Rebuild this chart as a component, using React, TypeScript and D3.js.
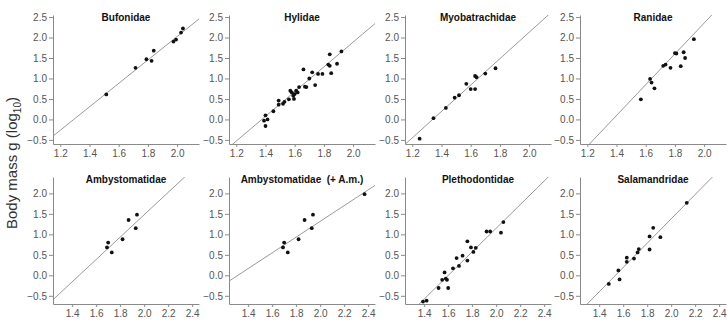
import { useRef, useEffect } from 'react';
import * as d3 from 'd3';

// panel titles, row by row
const families = [
    'Bufonidae', 'Hylidae', 'Myobatrachidae', 'Ranidae',
    'Ambystomatidae', 'Ambystomatidae  (+ A.m.)', 'Plethodontidae', 'Salamandridae',
];

// log10 SVL (x) vs log10 body mass (y)
const bufonidaeX = [1.515, 1.715, 1.79, 1.825, 1.84, 1.975, 1.993, 2.027, 2.04];
const bufonidaeY = [0.61, 1.26, 1.47, 1.43, 1.68, 1.9, 1.95, 2.12, 2.22];

const hylidaeX = [1.4, 1.39, 1.414, 1.4, 1.454, 1.49, 1.49, 1.52, 1.53, 1.56, 1.57, 1.58, 1.59, 1.595, 1.6, 1.61,
    1.62, 1.63, 1.66, 1.67, 1.68, 1.7, 1.72, 1.74, 1.76, 1.79, 1.83, 1.84, 1.84, 1.85, 1.89, 1.92];
const hylidaeY = [0.1, -0.03, 0.0, -0.16, 0.2, 0.36, 0.46, 0.38, 0.43, 0.49, 0.7, 0.66, 0.58, 0.5, 0.62, 0.7,
    0.66, 0.79, 1.22, 0.8, 0.79, 1.0, 1.15, 0.84, 1.11, 1.11, 1.34, 1.31, 1.59, 1.13, 1.36, 1.66];

const myobatrachidaeX = [1.25, 1.345, 1.43, 1.49, 1.52, 1.57, 1.6, 1.63, 1.63, 1.64, 1.7, 1.77];
const myobatrachidaeY = [-0.47, 0.03, 0.28, 0.53, 0.59, 0.87, 0.74, 0.74, 1.06, 1.03, 1.12, 1.25];

const ranidaeX = [1.567, 1.63, 1.64, 1.66, 1.72, 1.736, 1.77, 1.8, 1.81, 1.84, 1.86, 1.87, 1.93];
const ranidaeY = [0.49, 0.99, 0.9, 0.76, 1.31, 1.34, 1.26, 1.62, 1.61, 1.3, 1.64, 1.5, 1.96];

const ambystomatidaeX = [1.69, 1.7, 1.73, 1.82, 1.87, 1.93, 1.94];
const ambystomatidaeY = [0.68, 0.8, 0.56, 0.88, 1.35, 1.15, 1.48];

const ambystomatidaeAmX = [1.69, 1.7, 1.73, 1.82, 1.87, 1.93, 1.94, 2.37];
const ambystomatidaeAmY = [0.68, 0.8, 0.56, 0.88, 1.35, 1.15, 1.48, 1.98];

const plethodontidaeX = [1.39, 1.42, 1.52, 1.55, 1.57, 1.58, 1.59, 1.6, 1.64, 1.67, 1.69, 1.72, 1.76, 1.76,
    1.79, 1.81, 1.83, 1.92, 1.95, 2.04, 2.06];
const plethodontidaeY = [-0.64, -0.62, -0.31, -0.11, 0.07, -0.08, -0.11, -0.31, 0.17, 0.42, 0.23, 0.48, 0.83, 0.36,
    0.68, 0.57, 0.67, 1.07, 1.07, 1.04, 1.3];

const salamandridaeX = [1.48, 1.56, 1.57, 1.63, 1.63, 1.69, 1.72, 1.73, 1.82, 1.82, 1.85, 1.91, 2.13];
const salamandridaeY = [-0.21, 0.12, -0.1, 0.43, 0.33, 0.41, 0.56, 0.64, 0.63, 0.95, 1.16, 0.93, 1.77];

const seriesX = [bufonidaeX, hylidaeX, myobatrachidaeX, ranidaeX,
    ambystomatidaeX, ambystomatidaeAmX, plethodontidaeX, salamandridaeX];
const seriesY = [bufonidaeY, hylidaeY, myobatrachidaeY, ranidaeY,
    ambystomatidaeY, ambystomatidaeAmY, plethodontidaeY, salamandridaeY];

// fitted lines y = a + b x
const intercepts = [-3.696, -4.152, -4.313, -5.168, -3.981, -2.523, -4.611, -4.561];
const slopes = [2.86, 3.02, 3.22, 3.76, 2.73, 1.92, 2.88, 2.97];

// axis ticks per row
const topXTicks = [1.2, 1.4, 1.6, 1.8, 2.0];
const topYTicks = [-0.5, 0.0, 0.5, 1.0, 1.5, 2.0, 2.5];
const bottomXTicks = [1.4, 1.6, 1.8, 2.0, 2.2, 2.4];
const bottomYTicks = [-0.5, 0.0, 0.5, 1.0, 1.5, 2.0];

const FONT = '"Liberation Sans", Arial, Helvetica, sans-serif';

export default function App() {
    const svgRef = useRef<SVGSVGElement>(null);

    useEffect(() => {
        if (!svgRef.current) return;
        const width = 728;
        const height = 325;
        const colLeft = [53, 229, 405, 580];
        const plotW = 146;

        const rows = [
            { top: 15, bottom: 144, xDomain: [1.15, 2.15], yDomain: [-0.6, 2.55], xTicks: topXTicks, yTicks: topYTicks },
            { top: 177, bottom: 304, xDomain: [1.24, 2.457], yDomain: [-0.7, 2.4], xTicks: bottomXTicks, yTicks: bottomYTicks },
        ];

        d3.select(svgRef.current).selectAll('*').remove();
        const svg = d3.select(svgRef.current)
            .attr('width', width)
            .attr('height', height)
            .style('font-family', FONT);

        const fmt = d3.format('.1f');

        families.forEach((name, i) => {
            const row = rows[Math.floor(i / 4)];
            const left = colLeft[i % 4];
            const x = d3.scaleLinear().domain(row.xDomain).range([left, left + plotW]);
            const y = d3.scaleLinear().domain(row.yDomain).range([row.bottom, row.top]);

            const g = svg.append('g');

            const clipId = `clip-${i}`;
            g.append('clipPath').attr('id', clipId)
                .append('rect')
                .attr('x', left)
                .attr('y', row.top)
                .attr('width', plotW)
                .attr('height', row.bottom - row.top);

            // fitted line
            const [x0, x1] = row.xDomain;
            const line = d3.line<number>()
                .x(d => x(d))
                .y(d => y(intercepts[i] + slopes[i] * d));
            g.append('path')
                .attr('clip-path', `url(#${clipId})`)
                .attr('d', line([x0, x1]))
                .attr('fill', 'none')
                .attr('stroke', '#9a9a9a')
                .attr('stroke-width', 1);

            // points
            g.selectAll('.pt')
                .data(seriesX[i].map((v, k) => [v, seriesY[i][k]]))
                .enter()
                .append('circle')
                .attr('class', 'pt')
                .attr('cx', d => x(d[0]))
                .attr('cy', d => y(d[1]))
                .attr('r', 1.9)
                .attr('fill', '#111');

            // axes
            const xAxis = g.append('g')
                .attr('transform', `translate(0,${row.bottom})`)
                .call(d3.axisBottom(x).tickValues(row.xTicks).tickFormat(d => fmt(d as number)).tickSize(3).tickSizeOuter(0).tickPadding(3));
            const yAxis = g.append('g')
                .attr('transform', `translate(${left},0)`)
                .call(d3.axisLeft(y).tickValues(row.yTicks).tickFormat(d => fmt(d as number)).tickSize(4).tickSizeOuter(0).tickPadding(2));

            [xAxis, yAxis].forEach(ax => {
                ax.selectAll('.domain, .tick line').attr('stroke', '#8a8a8a');
                ax.selectAll('text')
                    .attr('fill', '#555')
                    .style('font-size', '10px')
                    .style('font-family', FONT);
            });

            // title
            g.append('text')
                .attr('x', left + plotW / 2)
                .attr('y', row.top + 6)
                .attr('text-anchor', 'middle')
                .style('font-size', '10px')
                .style('font-weight', 'bold')
                .style('white-space', 'pre')
                .attr('fill', '#111')
                .text(name);
        });

        // shared y label
        const label = svg.append('text')
            .attr('transform', 'translate(17,163) rotate(-90)')
            .attr('text-anchor', 'middle')
            .attr('fill', '#333')
            .style('font-size', '15px');
        label.append('tspan').text('Body mass g (log');
        label.append('tspan').attr('dy', 4).style('font-size', '10px').text('10');
        label.append('tspan').attr('dy', -4).text(')');
    }, []);

    return (
        <div style={{ position: 'absolute', left: 0, top: 0 }}>
            <svg ref={svgRef}></svg>
        </div>
    );
}
